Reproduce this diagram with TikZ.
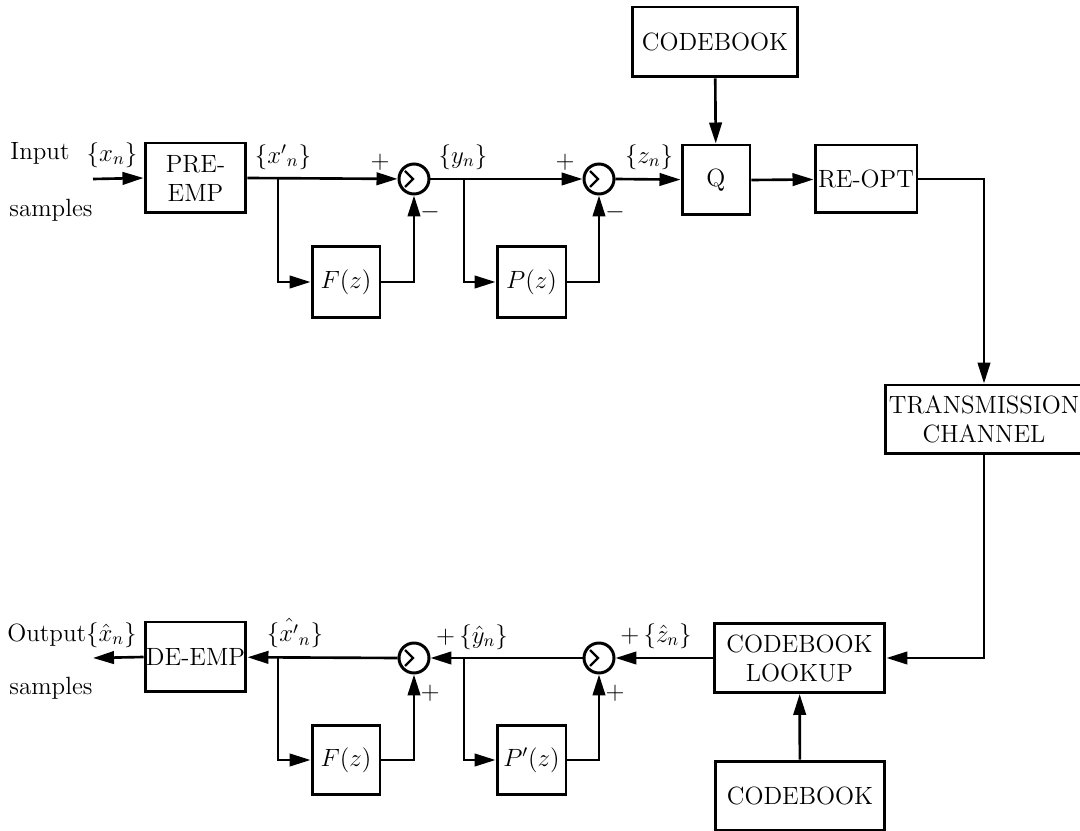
\RequirePackage{fix-cm}
\documentclass[tikz,border=0pt]{standalone}
\usepackage{amsmath}
\usepackage{tikz}
\usetikzlibrary{arrows.meta, positioning, calc}
\newcommand{\lblfont}{\fontsize{14.2}{16.5}\selectfont}

\begin{document}
\begin{tikzpicture}[
    x=0.02cm, y=-0.02cm,
    blk/.style={
        rectangle, draw, line width=1.7pt, inner sep=0pt,
        font=\lblfont, align=center
    },
    sumnode/.style={
        circle, draw, line width=1.7pt, minimum size=0.6cm, inner sep=0pt
    },
    lbl/.style={font=\lblfont, inner sep=0pt},
    arr/.style={-{Triangle[length=0.42cm, width=0.25cm]}, line width=1.5pt}
]
\useasboundingbox (0,0) rectangle (1080,831);

\node[lbl] (inlbl)  at (40,153)  {Input};
\node[lbl] (insmp)  at (51,210)  {samples};
\node[lbl] (xn)     at (112,155) {$\{x_n\}$};
\coordinate (instart) at (93,179);

\node[blk, minimum width=2.02cm, minimum height=1.4cm] (preemp) at (195.5,178) {PRE-\\EMP};
\node[sumnode] (s1) at (414,179) {};
\node[sumnode] (s2) at (599,179) {};
\node[blk, minimum width=1.36cm, minimum height=1.42cm] (fz1) at (346,282) {$F(z)$};
\node[blk, minimum width=1.38cm, minimum height=1.42cm] (pz1) at (531.5,282) {$P(z)$};
\node[blk, minimum width=1.36cm, minimum height=1.4cm] (quant) at (716,180) {Q};
\node[blk, minimum width=3.32cm, minimum height=1.4cm] (cbtop) at (715,42) {CODEBOOK};
\node[blk, minimum width=2.04cm, minimum height=1.36cm] (reopt) at (866,179) {RE-OPT};
\node[blk, minimum width=3.96cm, minimum height=1.38cm] (chan) at (984,419.5) {TRANSMISSION\\CHANNEL};

\node[blk, minimum width=3.42cm, minimum height=1.38cm] (lookup) at (799.5,658) {CODEBOOK\\LOOKUP};
\node[blk, minimum width=3.4cm, minimum height=1.4cm] (cbbot) at (800,796) {CODEBOOK};
\node[sumnode] (s3) at (414,658) {};
\node[sumnode] (s4) at (599,658) {};
\node[blk, minimum width=1.36cm, minimum height=1.4cm] (fz2) at (346,760) {$F(z)$};
\node[blk, minimum width=1.38cm, minimum height=1.4cm] (pz2) at (531.5,760) {$P'(z)$};
\node[blk, minimum width=2.02cm, minimum height=1.4cm] (deemp) at (195.5,657) {DE-EMP};
\coordinate (outend) at (93,658);
\node[lbl] (outlbl) at (72,635)  {Output$\{\hat{x}_n\}$};
\node[lbl] (outsmp) at (51,688)  {samples};

\coordinate (b1) at (278,179);
\coordinate (b2) at (464,179);
\coordinate (b3) at (278,658);
\coordinate (b4) at (464,658);

\node[lbl] (xpn)  at (283,157) {$\{x'{}_n\}$};
\node[lbl] (yn)   at (463,157) {$\{y_n\}$};
\node[lbl] (zn)   at (649,157) {$\{z_n\}$};
\node[lbl] (p1)   at (380,162) {$+$};
\node[lbl] (m1)   at (430,212) {$-$};
\node[lbl] (p2)   at (565,162) {$+$};
\node[lbl] (m2)   at (615,212) {$-$};

\node[lbl] (xhpn) at (295,633) {$\{\hat{x'}_n\}$};
\node[lbl] (yhn)  at (472,637) {$+\,\{\hat{y}_n\}$};
\node[lbl] (zhn)  at (656,636) {$+\,\{\hat{z}_n\}$};
\node[lbl] (p3)   at (430,693) {$+$};
\node[lbl] (p4)   at (615,693) {$+$};

\foreach \s in {s1,s2,s3,s4}
  \draw[line width=1.3pt] ([shift={(-9,-8)}]\s.center) -- ([shift={(-1,0)}]\s.center)
                          -- ([shift={(-9,8)}]\s.center);

\draw[arr] (instart) -- (preemp.west);
\foreach \a/\b in {preemp/s1, s1/s2, s2/quant, quant/reopt}
  \draw[arr] (\a.east |- \a.center) -- (\b);
\foreach \a/\b in {lookup/s4, s4/s3, s3/deemp}
  \draw[arr] (\a.west) -- (\b);
\draw[arr] (cbtop) -- (quant);
\draw[arr] (cbbot) -- (lookup);
\draw[arr] (reopt.east) -| (chan.north);
\draw[arr] (chan.south) |- (lookup.east);
\draw[arr] (deemp.west) -- (outend);

\foreach \b/\f/\s in {b1/fz1/s1, b2/pz1/s2, b3/fz2/s3, b4/pz2/s4} {
  \draw[arr] (\b) |- (\f.west);
  \draw[arr] (\f.east) -| (\s.south);
}
\end{tikzpicture}
\end{document}
